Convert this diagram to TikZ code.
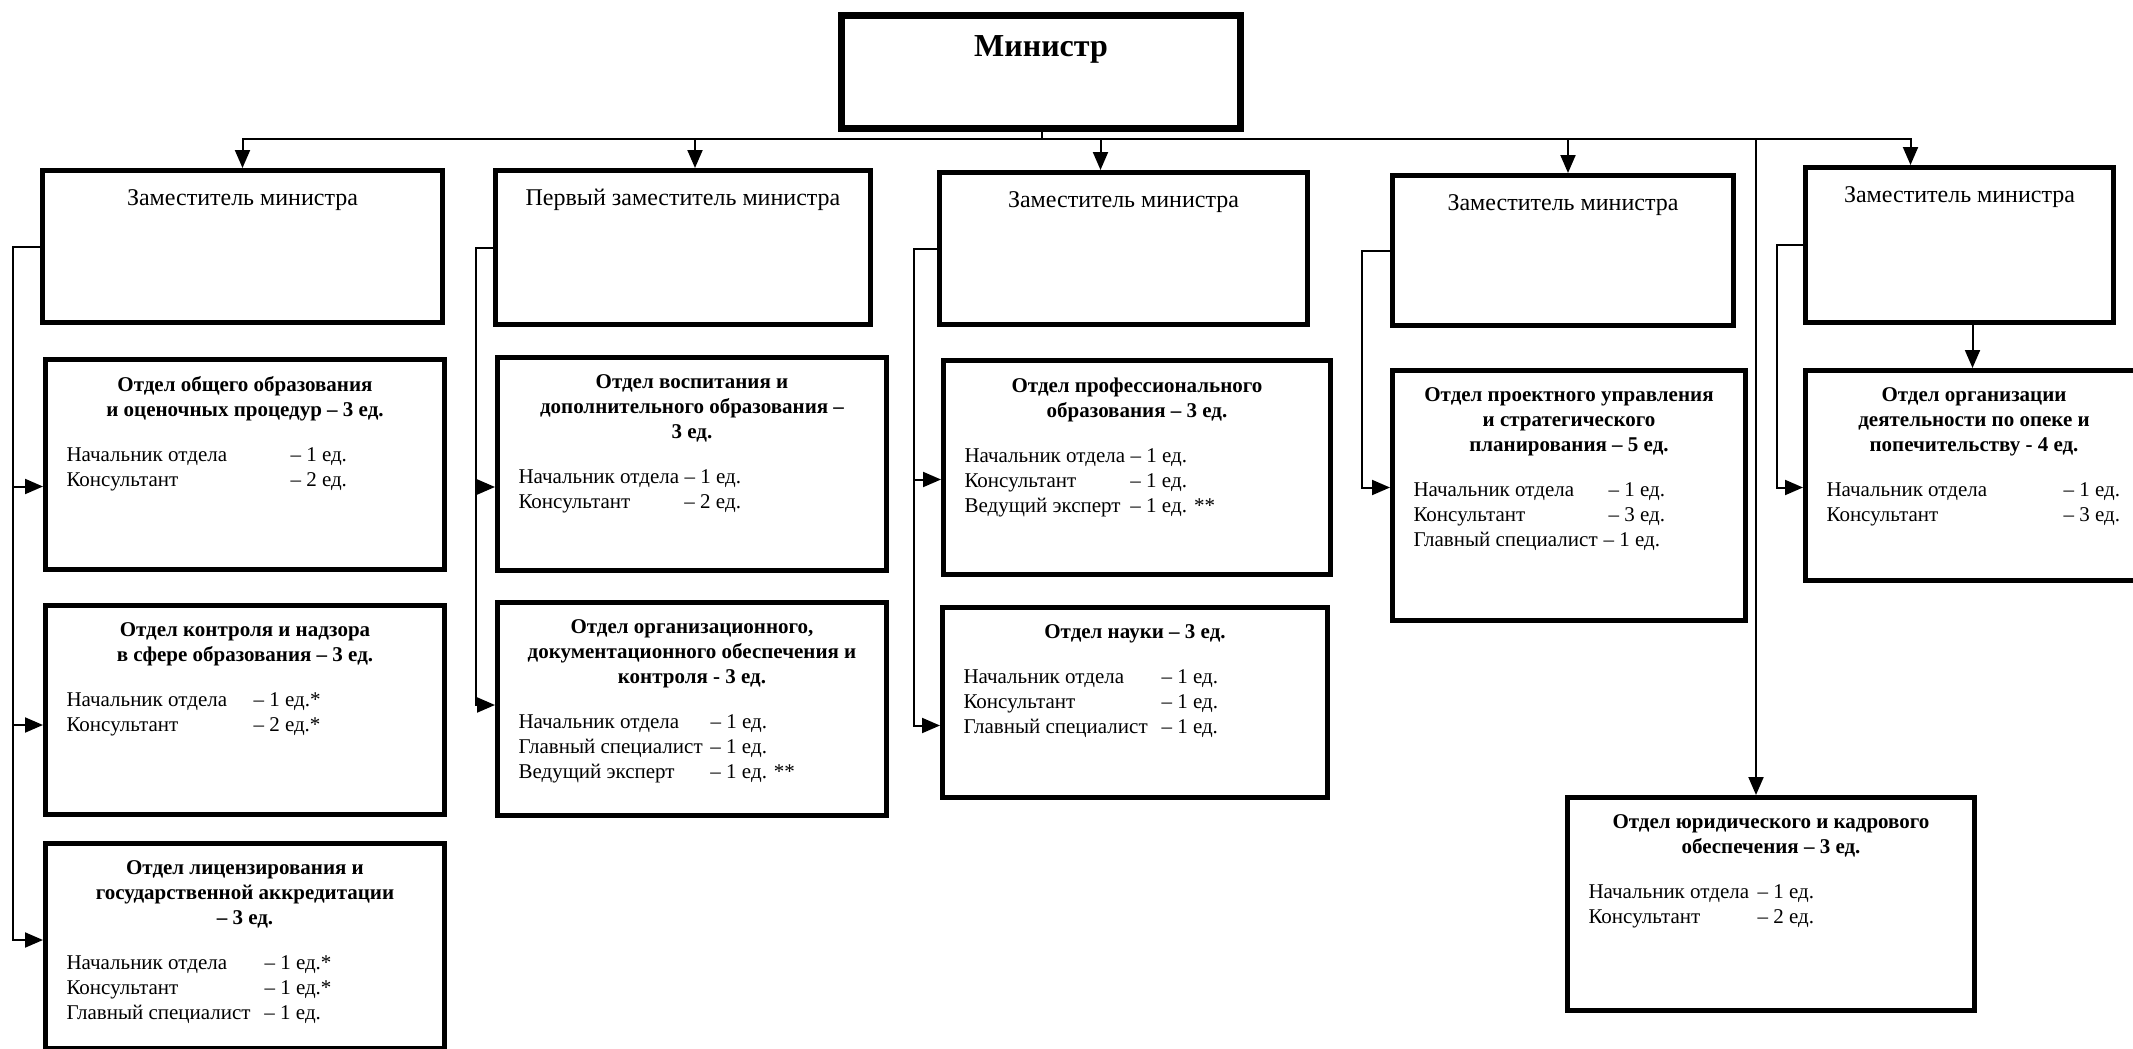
\documentclass[tikz,border=0pt]{standalone}
\usepackage{fontspec}
\setmainfont{Liberation Serif}
\usetikzlibrary{arrows.meta}

\newcommand{\staffline}[3]{\makebox[#1][l]{#2}#3\par}
\newcommand{\otdel}[4]{\parbox[t][#2][t]{#1}{\centering\bfseries #3\par\vspace{20pt}\raggedright\mdseries #4}}
\newcommand{\headbox}[3]{\parbox[t][#2][t]{#1}{\centering #3}}

\begin{document}
\begin{tikzpicture}[x=1pt, y=-1pt,
    unit/.style={draw, line width=5pt, inner xsep=21pt, inner ysep=17pt, anchor=north west, font={\fontsize{21}{25}\selectfont}},
    chief/.style={unit, line width=7pt, inner ysep=20pt, font={\fontsize{32}{36}\selectfont\bfseries}},
    deputy/.style={unit, inner ysep=19pt, font={\fontsize{24}{28}\selectfont}},
    link/.style={line width=2pt},
    arr/.style={link, -{Triangle[length=18pt,width=15pt]}}]
    \path[use as bounding box, fill=white] (0,0) rectangle (2133,1049);

    % minister and deputies
    \node[chief] (minister) at (838,12) {\headbox{357pt}{73pt}{Министр}};
    \node[deputy] (d1) at (40,168) {\headbox{358pt}{114pt}{Заместитель министра}};
    \node[deputy] (d2) at (493,168) {\headbox{333pt}{116pt}{Первый заместитель министра}};
    \node[deputy] (d3) at (937,170) {\headbox{326pt}{114pt}{Заместитель министра}};
    \node[deputy] (d4) at (1390,173) {\headbox{299pt}{112pt}{Заместитель министра}};
    \node[deputy] (d5) at (1803,165) {\headbox{266pt}{117pt}{Заместитель министра}};

    % departments
    \node[unit] (dA) at (43,357) {\otdel{357pt}{176pt}{Отдел общего образования\\и оценочных процедур – 3 ед.}{%
      \staffline{224pt}{Начальник отдела}{– 1 ед.}
      \staffline{224pt}{Консультант}{– 2 ед.}}};
    \node[unit] (dB) at (43,603) {\otdel{357pt}{175pt}{Отдел контроля и надзора\\в сфере образования – 3 ед.}{%
      \staffline{187pt}{Начальник отдела}{– 1 ед.*}
      \staffline{187pt}{Консультант}{– 2 ед.*}}};
    \node[unit] (dC) at (43,841) {\otdel{357pt}{171pt}{Отдел лицензирования и\\государственной аккредитации\\– 3 ед.}{%
      \staffline{198pt}{Начальник отдела}{– 1 ед.*}
      \staffline{198pt}{Консультант}{– 1 ед.*}
      \staffline{198pt}{Главный специалист}{– 1 ед.}}};
    \node[unit] (dD) at (495,355) {\otdel{347pt}{179pt}{Отдел воспитания и\\дополнительного образования –\\3 ед.}{%
      \staffline{166pt}{Начальник отдела}{– 1 ед.}
      \staffline{166pt}{Консультант}{– 2 ед.}}};
    \node[unit] (dE) at (495,600) {\otdel{347pt}{179pt}{Отдел организационного,\\документационного обеспечения и\\контроля - 3 ед.}{%
      \staffline{192pt}{Начальник отдела}{– 1 ед.}
      \staffline{192pt}{Главный специалист}{– 1 ед.}
      \staffline{192pt}{Ведущий эксперт}{– 1 ед. **}}};
    \node[unit] (dF) at (941,358) {\otdel{345pt}{180pt}{Отдел профессионального\\образования – 3 ед.}{%
      \staffline{166pt}{Начальник отдела}{– 1 ед.}
      \staffline{166pt}{Консультант}{– 1 ед.}
      \staffline{166pt}{Ведущий эксперт}{– 1 ед. **}}};
    \node[unit] (dG) at (940,605) {\otdel{343pt}{156pt}{Отдел науки – 3 ед.}{%
      \staffline{198pt}{Начальник отдела}{– 1 ед.}
      \staffline{198pt}{Консультант}{– 1 ед.}
      \staffline{198pt}{Главный специалист}{– 1 ед.}}};
    \node[unit] (dH) at (1390,368) {\otdel{311pt}{216pt}{Отдел проектного управления\\и стратегического\\планирования – 5 ед.}{%
      \staffline{195pt}{Начальник отдела}{– 1 ед.}
      \staffline{195pt}{Консультант}{– 3 ед.}
      \staffline{190pt}{Главный специалист}{– 1 ед.}}};
    \node[unit] (dI) at (1803,368) {\otdel{295pt}{176pt}{Отдел организации\\деятельности по опеке и\\попечительству - 4 ед.}{%
      \staffline{237pt}{Начальник отдела}{– 1 ед.}
      \staffline{237pt}{Консультант}{– 3 ед.}}};
    \node[unit] (dJ) at (1565,795) {\otdel{365pt}{179pt}{Отдел юридического и кадрового\\обеспечения – 3 ед.}{%
      \staffline{169pt}{Начальник отдела}{– 1 ед.}
      \staffline{169pt}{Консультант}{– 2 ед.}}};

    % minister to deputies
    \coordinate (bus) at (1042,139);
    \draw[link] (minister.south -| bus) -- (bus);
    \draw[arr] (bus) -| (d1.north);
    \draw[arr] (bus) -| ([xshift=12pt]d2.north);
    \draw[arr] (bus) -| ([xshift=-23pt]d3.north);
    \draw[arr] (bus) -| ([xshift=5pt]d4.north);
    \draw[arr] (bus) -| ([xshift=-49pt]d5.north);
    \coordinate (legal) at (1756,139);
    \draw[arr] (legal) -- (legal |- dJ.north);

    % deputies to departments
    \draw[arr] (d1.west) -- ++(-27,0) |- ([yshift=-22pt]dA.west);
    \draw[arr] (d1.west) -- ++(-27,0) |- ([yshift=-15pt]dB.west);
    \draw[arr] (d1.west) -- ++(-27,0) |- ([yshift=6pt]dC.west);
    \draw[arr] (d2.west) -- ++(-17,0) |- ([yshift=-23pt]dD.west);
    \draw[arr] (d2.west) -- ++(-17,0) |- ([yshift=4pt]dE.west);
    \draw[arr] (d3.west) -- ++(-23,0) |- ([yshift=-12pt]dF.west);
    \draw[arr] (d3.west) -- ++(-23,0) |- ([yshift=-23pt]dG.west);
    \draw[arr] (d4.west) -- ++(-28,0) |- ([yshift=8pt]dH.west);
    \draw[arr] (d5.west) -- ++(-26,0) |- ([yshift=-12pt]dI.west);
    \draw[arr] ([xshift=13pt]d5.south) -- ([xshift=13pt]d5.south |- dI.north);
\end{tikzpicture}
\end{document}
